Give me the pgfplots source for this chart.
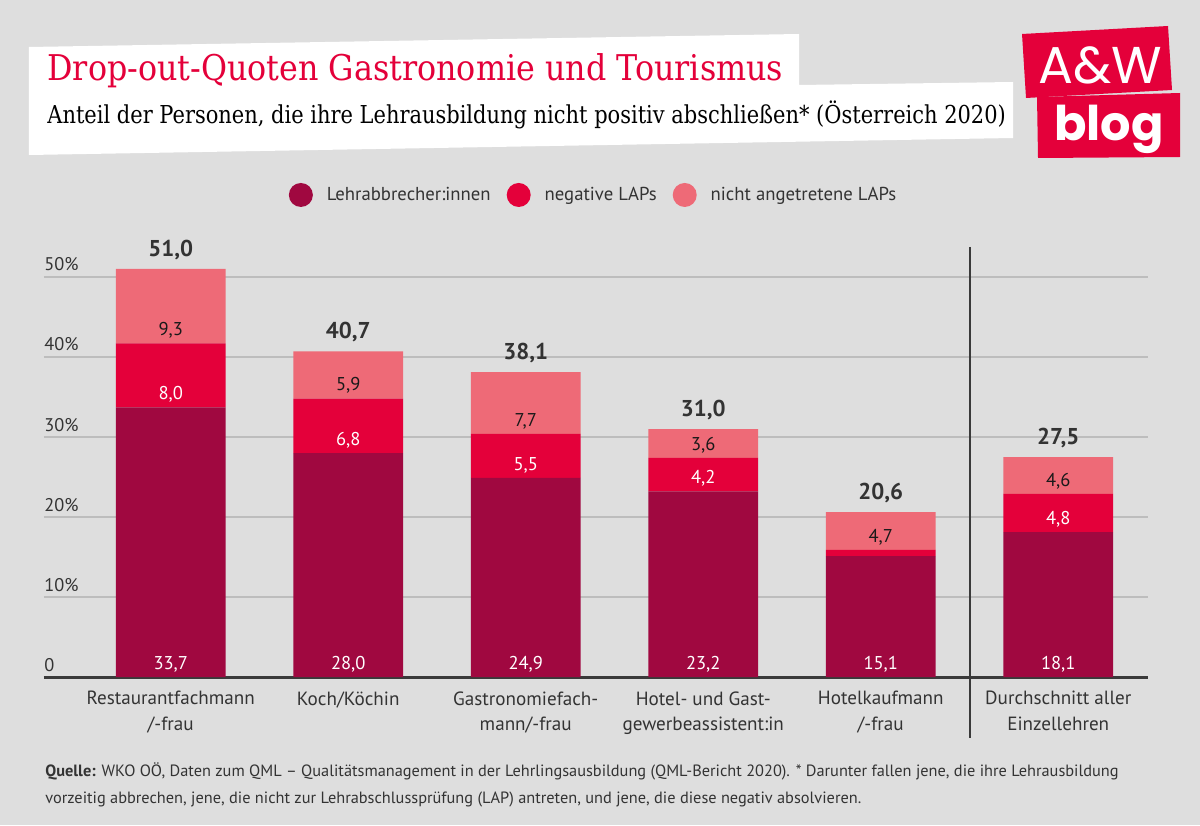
\documentclass[border=0pt]{standalone}
\usepackage{fontspec}
\setmainfont{PT Sans}
\newfontfamily\slab{DejaVu Serif}[FakeStretch=0.895]
\newfontfamily\slabsub{DejaVu Serif}[FakeStretch=0.85]
\newfontfamily\pop{Poppins}
\usepackage{pgfplots}
\usepackage{pgfplotstable}
\pgfplotsset{compat=1.18}

\definecolor{bg}{HTML}{DEDEDE}
\definecolor{darkc}{HTML}{A00840}
\definecolor{redc}{HTML}{E4003A}
\definecolor{pinkc}{HTML}{EE6A77}
\definecolor{txt}{HTML}{333333}
\definecolor{gridc}{HTML}{BDBDBD}
\definecolor{axc}{HTML}{3A3A3A}

% Anteile in Prozent: Lehrabbrecher, negative LAP, nicht angetretene LAP
\pgfplotstableread{
x dark red light
0 33.7 8.0 9.3
1 28.0 6.8 5.9
2 24.9 5.5 7.7
3 23.2 4.2 3.6
4 15.1 0.8 4.7
5 18.1 4.8 4.6
}\quoten

\pgfplotsset{
  frame/.style={scale only axis, width=551.75bp, height=220bp,
    xmin=-0.714, xmax=5.503, ymin=0, ymax=55,
    at={(0,0)}, anchor=south west, clip=false},
  lbl/.style 2 args={draw=none, mark=none, nodes near coords,
    nodes near coords={\pgfmathprintnumber[use comma,fixed,fixed zerofill,precision=1,assume math mode=true]{\pgfplotspointmeta}},
    every node near coord/.append style={font=#1, text=#2}},
}
\tikzset{px/.style={x=0.5bp, y=-0.5bp, shift={(-44,-677)}}}

\begin{document}
\begin{tikzpicture}
\begin{scope}[px]
  \fill[bg] (0,0) rectangle (1200,825);
  % weisse Titelflaeche
  \fill[white] (29,47) -- (799,34) -- (799,85) -- (1013,82) -- (1013,138) -- (29,155) -- cycle;
  \node[anchor=base west, inner sep=0pt, text=redc, font=\slab\fontsize{17.8}{20}\selectfont] at (47,81) {Drop-out-Quoten Gastronomie und Tourismus};
  \node[anchor=base west, inner sep=0pt, text=black, font=\slabsub\fontsize{12.38}{14}\selectfont] at (47,124) {Anteil der Personen, die ihre Lehrausbildung nicht positiv abschließen* (Österreich 2020)};
  % Logo
  \fill[redc] (1037,97) -- (1180,93) -- (1180,157) -- (1038,158) -- cycle;
  \fill[redc] (1022,34) -- (1168,26) -- (1172,90) -- (1026,98) -- cycle;
  \node[anchor=base, inner sep=0pt, text=white, font=\pop\fontsize{26}{28}\selectfont] at (1100,84) {A\&W};
  \node[anchor=base, inner sep=0pt, text=white, font=\pop\bfseries\fontsize{24}{25}\selectfont] at (1109,141) {blog};
  % Quelle
  \node[anchor=base west, inner sep=0pt, align=left, text=txt, font=\fontsize{8.2}{13.4}\selectfont] at (45,803)
    {\textbf{Quelle:} WKO OÖ, Daten zum QML – Qualitätsmanagement in der Lehrlingsausbildung (QML-Bericht 2020). * Darunter fallen jene, die ihre Lehrausbildung\\
     vorzeitig abbrechen, jene, die nicht zur Lehrabschlussprüfung (LAP) antreten, und jene, die diese negativ absolvieren.};
\end{scope}

\begin{axis}[frame,
  ybar stacked, bar width=0.618,
  axis line style={draw=none},
  major tick length=0pt,
  ytick={0,10,20,30,40,50},
  yticklabels={0,10\%,20\%,30\%,40\%,50\%},
  yticklabel style={anchor=base west, inner sep=0pt, yshift=3bp, font=\fontsize{9.2}{10}\selectfont, text=txt},
  ymajorgrids, grid style={color=gridc, line width=0.75bp},
  xtick={0,...,5},
  xticklabels={Restaurantfachmann\\/-frau, Koch/Köchin, Gastronomiefach-\\mann/-frau, Hotel- und Gast-\\gewerbeassistent:in, Hotelkaufmann\\/-frau, Durchschnitt aller\\Einzellehren},
  xticklabel style={anchor=north, align=center, inner sep=0pt, yshift=-7bp, font=\fontsize{9.6}{13}\selectfont, text=txt},
  legend columns=3,
  legend style={draw=none, fill=none, at={(0.4989,1.0955)}, anchor=center,
    font=\fontsize{9.4}{10}\selectfont, text=txt,
    /tikz/every odd column/.append style={column sep=5bp},
    /tikz/every even column/.append style={column sep=6bp}},
]
\addplot[fill=darkc, draw=none, legend image code/.code={\fill[darkc] (0bp,0bp) circle (6bp);}] table[x=x, y=dark] {\quoten};
\addplot[fill=redc, draw=none, legend image code/.code={\fill[redc] (0bp,0bp) circle (6bp);}] table[x=x, y=red] {\quoten};
\addplot[fill=pinkc, draw=none, legend image code/.code={\fill[pinkc] (0bp,0bp) circle (6bp);}] table[x=x, y=light] {\quoten};
\legend{Lehrabbrecher:innen, negative LAPs, nicht angetretene LAPs}
\draw[axc, line width=1.5bp] (rel axis cs:0,0) -- (rel axis cs:1,0);
\draw[axc, line width=1bp] (axis cs:4.5,53.75) -- ([yshift=-30.5bp]axis cs:4.5,0);
\end{axis}

\begin{axis}[frame, hide axis]
\addplot[lbl={\fontsize{9.3}{10}\selectfont}{white}, point meta=explicit,
  every node near coord/.append style={yshift=-1bp}]
  table[x=x, y expr=0, meta=dark] {\quoten};
\addplot[lbl={\fontsize{9.3}{10}\selectfont}{white}, point meta=explicit,
  every node near coord/.append style={yshift=-1bp},
  x filter/.expression={x==4 ? nan : x}]
  table[x=x, y=dark, meta=red] {\quoten};
\addplot[lbl={\fontsize{9.3}{10}\selectfont}{black!90}, point meta=explicit,
  every node near coord/.append style={yshift=-1bp}]
  table[x=x, y expr=\thisrow{dark}+\thisrow{red}, meta=light] {\quoten};
\addplot[lbl={\bfseries\fontsize{11.5}{12}\selectfont}{txt}, point meta=y,
  every node near coord/.append style={yshift=1bp}]
  table[x=x, y expr=\thisrow{dark}+\thisrow{red}+\thisrow{light}] {\quoten};
\end{axis}

\begin{scope}[px]
  \pgfresetboundingbox
  \path[use as bounding box] (0,0) rectangle (1200,825);
\end{scope}
\end{tikzpicture}
\end{document}
